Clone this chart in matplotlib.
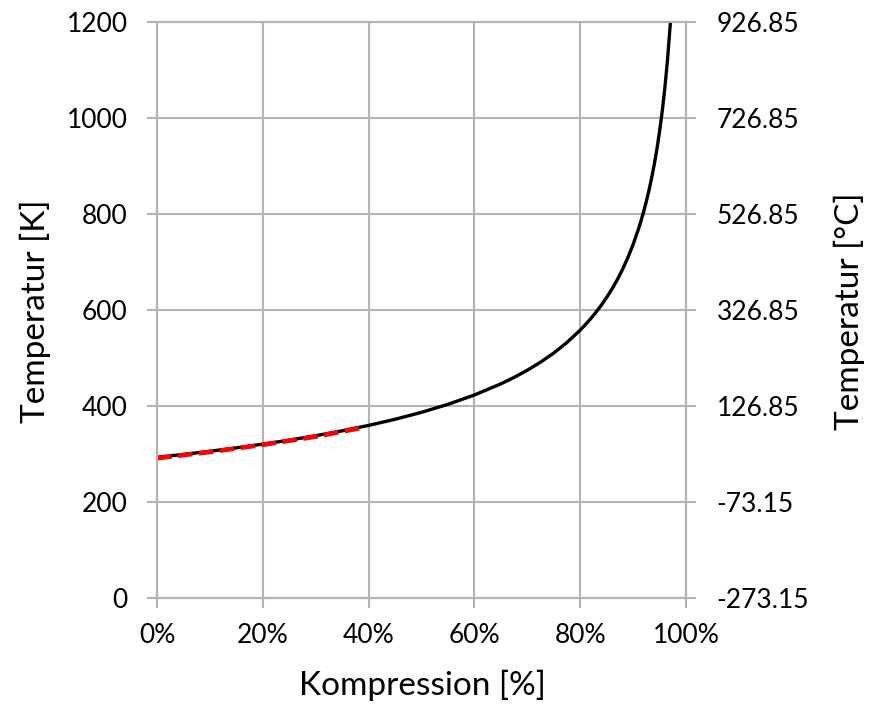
import matplotlib.pyplot as plt
from matplotlib.ticker import FuncFormatter, FormatStrFormatter

# Данные: степень сжатия (доля) и температура [K]
kompression = [0.0, 0.05, 0.10, 0.15, 0.20, 0.25, 0.30, 0.35, 0.40, 0.45, 0.50,
               0.55, 0.60, 0.65, 0.675, 0.70, 0.725, 0.75, 0.775, 0.80, 0.81,
               0.82, 0.83, 0.84, 0.85, 0.86, 0.87, 0.88, 0.89, 0.90, 0.91,
               0.915, 0.92, 0.925, 0.93, 0.935, 0.94, 0.945, 0.95, 0.955,
               0.96, 0.965, 0.97, 0.972]
temperatur = [293, 299, 305.6, 312.7, 320.4, 328.7, 337.9, 348.1, 359.4, 372.1,
              386.6, 403.3, 422.7, 445.9, 459.3, 474.2, 491.1, 510.1, 532.1,
              557.8, 569.4, 581.8, 595.3, 609.9, 625.8, 643.3, 662.6, 684.2,
              708.4, 736.0, 767.7, 785.4, 804.7, 825.7, 848.8, 874.4, 902.9,
              934.7, 971.1, 1012.9, 1061.8, 1120.1, 1191.3, 1224.7]

# Näherung (rote gestrichelte Linie)
naeherung_x = [0.0, 0.10, 0.20, 0.30, 0.39]
naeherung_t = [291, 304, 319, 336, 355]

y_ticks = [0, 200, 400, 600, 800, 1000, 1200]
x_ticks = [0, 0.2, 0.4, 0.6, 0.8, 1.0]
celsius_ticks = [-273.15, -73.15, 126.85, 326.85, 526.85, 726.85, 926.85]

plt.rcParams['font.family'] = ['Lato', 'DejaVu Sans']
grau = '#b3b3b3'

fig = plt.figure(figsize=(8.77, 7.08), dpi=100)
ax = fig.add_axes([157 / 877, 1 - 598 / 708, 529 / 877, 576.3 / 708])

ax.plot(kompression, temperatur, color='black', linewidth=2.4, zorder=3)
ax.plot(naeherung_x, naeherung_t, color='#ff0000', linewidth=3.3,
        dashes=(3.2, 1.4), zorder=4)

ax.set_xlim(0, 1)
ax.set_ylim(0, 1200)
ax.set_xticks(x_ticks)
ax.set_yticks(y_ticks)
ax.xaxis.set_major_formatter(FuncFormatter(lambda v, p: f'{v * 100:.0f}%'))
ax.grid(True, color=grau, linewidth=1.5)
ax.set_axisbelow(True)
ax.tick_params(labelsize=19, length=7.2, width=1.5, color=grau, pad=14)
ax.tick_params(axis='x', pad=11)
for s in ax.spines.values():
    s.set_color(grau)
    s.set_linewidth(1.5)

# Zweite Achse in °C
ax2 = ax.twinx()
ax2.set_ylim(-273.15, 926.85)
ax2.set_yticks(celsius_ticks)
ax2.yaxis.set_major_formatter(FormatStrFormatter('%.2f'))
ax2.tick_params(labelsize=19, length=7.2, width=1.5, color=grau, pad=15)
for s in ax2.spines.values():
    s.set_color(grau)
    s.set_linewidth(1.5)

fig.text(422 / 877, 1 - 685 / 708, 'Kompression [%]', fontsize=24,
         ha='center', va='center')
fig.text(35 / 877, 1 - 311 / 708, 'Temperatur [K]', fontsize=24,
         rotation=90, ha='center', va='center')
fig.text(849 / 877, 1 - 311 / 708, 'Temperatur [°C]', fontsize=24,
         rotation=90, ha='center', va='center')

fig.savefig('out.png', dpi=100)
